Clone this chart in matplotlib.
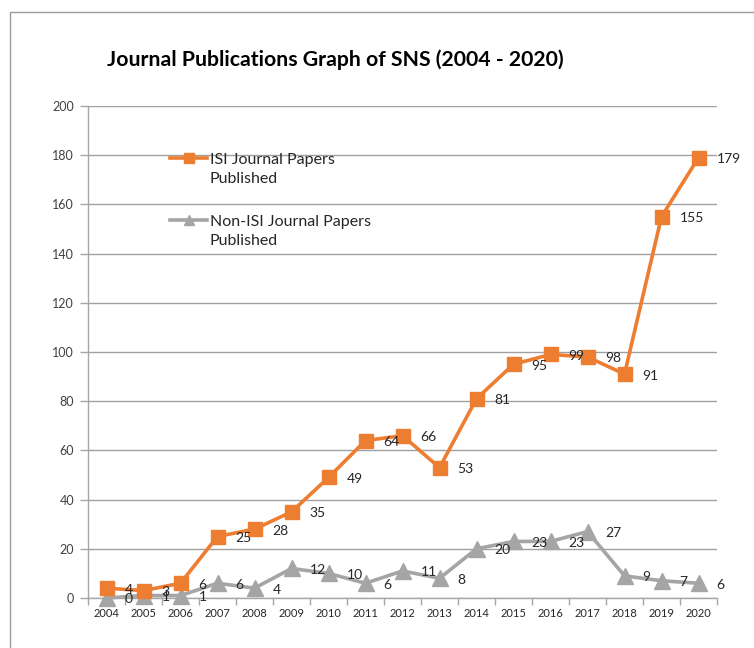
import matplotlib
matplotlib.use("Agg")
import matplotlib.pyplot as plt
from matplotlib.patches import Rectangle
from matplotlib.ticker import FixedLocator, NullFormatter, FixedFormatter

plt.rcParams['font.family'] = ['Lato', 'DejaVu Sans']

years = ["2004", "2005", "2006", "2007", "2008", "2009", "2010", "2011", "2012",
         "2013", "2014", "2015", "2016", "2017", "2018", "2019", "2020"]
isi = [4, 3, 6, 25, 28, 35, 49, 64, 66, 53, 81, 95, 99, 98, 91, 155, 179]
non_isi = [0, 1, 1, 6, 4, 12, 10, 6, 11, 8, 20, 23, 23, 27, 9, 7, 6]
y_ticks = [0, 20, 40, 60, 80, 100, 120, 140, 160, 180, 200]

ORANGE = "#ED7D31"
GRAY = "#A5A5A5"
AXIS_GRAY = "#A6A6A6"

fig = plt.figure(figsize=(7.54, 6.48), dpi=100)
W, H = 754, 648
ax = fig.add_axes([88 / W, 1 - 598 / H, (717 - 88) / W, (598 - 106) / H])

x = list(range(len(years)))
ax.plot(x, isi, color=ORANGE, lw=2.6, marker="s", ms=10, mec=ORANGE, mfc=ORANGE,
        label="ISI Journal Papers", zorder=4, clip_on=False)
ax.plot(x, non_isi, color=GRAY, lw=2.6, marker="^", ms=11, mec=GRAY, mfc=GRAY,
        label="Non-ISI Journal Papers", zorder=3, clip_on=False)

for xi, v in zip(x, isi):
    ax.annotate(str(v), (xi, v), xytext=(13, -1), textcoords="offset points",
                va="center", ha="left", fontsize=10, color="#262626", zorder=5)
for xi, v in zip(x, non_isi):
    ax.annotate(str(v), (xi, v), xytext=(13, -1), textcoords="offset points",
                va="center", ha="left", fontsize=10, color="#262626", zorder=5)

ax.set_xlim(-0.5, len(years) - 0.5)
ax.set_ylim(0, 200)
ax.set_yticks(y_ticks)
ax.set_yticklabels([str(t) for t in y_ticks], fontsize=9, color="#404040")
ax.tick_params(axis="y", length=6, width=1, color=AXIS_GRAY, pad=4)

ax.xaxis.set_major_locator(FixedLocator([i - 0.5 for i in range(len(years) + 1)]))
ax.xaxis.set_major_formatter(NullFormatter())
ax.xaxis.set_minor_locator(FixedLocator(x))
ax.xaxis.set_minor_formatter(FixedFormatter(years))
ax.tick_params(axis="x", which="major", length=5, width=1, color=AXIS_GRAY)
ax.tick_params(axis="x", which="minor", length=0, labelsize=8, labelcolor="#262626", pad=7)

ax.grid(axis="y", color="#A0A0A0", lw=1)
ax.set_axisbelow(True)
for s in ["top", "right"]:
    ax.spines[s].set_visible(False)
for s in ["left", "bottom"]:
    ax.spines[s].set_color(AXIS_GRAY)
    ax.spines[s].set_linewidth(1)

leg = ax.legend(loc="upper left", bbox_to_anchor=(76 / (717 - 88), 1 - 40 / 492),
                frameon=False, fontsize=11.5, handlelength=2.3, handletextpad=0.15,
                labelspacing=3.0, markerscale=0.7, borderaxespad=0)
for t in leg.get_texts():
    t.set_color("#262626")

fig.text(107 / W, 1 - 60 / H, "Journal Publications Graph of SNS (2004 - 2020)",
         fontsize=15.3, fontweight="bold", ha="left", va="center", color="black")

fig.patches.append(Rectangle((10 / W, -0.1), 1.2, 1 - 12 / H + 0.1,
                             transform=fig.transFigure, fill=False,
                             edgecolor="#9A9A9A", lw=1))

fig.canvas.draw()
for t in leg.get_texts():
    bb = t.get_window_extent()
    fig.text(bb.x0 / W, (bb.y0 - 5) / H, "Published", fontsize=11.5,
             ha="left", va="top", color="#262626")

fig.savefig("out.png", dpi=100)
